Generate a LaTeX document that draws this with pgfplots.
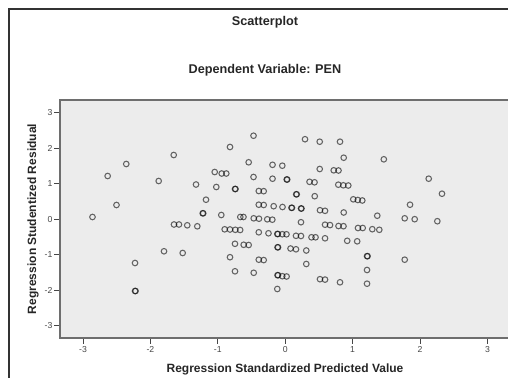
\documentclass[border=0pt]{standalone}
\usepackage{fontspec}
\setmainfont{Liberation Sans}
\usepackage{pgfplots}
\pgfplotsset{compat=1.18}
\definecolor{bgc}{RGB}{236,236,236}
\definecolor{axc}{RGB}{110,110,110}
\definecolor{tkc}{RGB}{70,70,70}
\begin{document}
\begin{tikzpicture}
\useasboundingbox (0pt,0pt) rectangle (381pt,-283.5pt);
\clip (0pt,0pt) rectangle (381pt,-283.5pt);
\draw[line width=0.8pt, draw=black!80] (6.75pt,-6.75pt) rectangle (391pt,-300pt);
\node[font=\fontsize{9.5}{11}\selectfont\bfseries, text=black!85] at (198.75pt,-16.5pt) {Scatterplot};
\node[font=\fontsize{9.5}{11}\selectfont\bfseries, text=black!85] at (198.75pt,-52.5pt) {Dependent Variable: PEN};
\begin{axis}[
  at={(45pt,-253.5pt)}, anchor=south west,
  scale only axis, width=337.5pt, height=178.5pt,
  xmin=-3.341, xmax=3.335, ymin=-3.344, ymax=3.361,
  axis background/.style={fill=bgc},
  axis line style={draw=axc, line width=1.1pt},
  tick align=outside, xtick pos=bottom, ytick pos=left,
  major tick length=4.5pt,
  tick style={draw=tkc, line width=0.6pt},
  xtick={-3,-2,-1,0,1,2,3}, xticklabels={-3,-2,-1,0,1,2,3},
  ytick={-3,-2,-1,0,1,2,3}, yticklabels={-3,-2,-1,0,1,2,3},
  ticklabel style={font=\fontsize{6.5}{7}\selectfont, text=tkc},
  yticklabel style={inner sep=1pt},
  xticklabel style={inner sep=1.5pt},
  xlabel={Regression Standardized Predicted Value},
  xlabel style={at={(axis description cs:0.5,-0.1303)}, anchor=center, font=\fontsize{9}{10}\selectfont\bfseries, text=black!85},
  ylabel={Regression Studentized Residual},
  ylabel style={at={(axis description cs:-0.06,0.5)}, anchor=center, font=\fontsize{9}{10}\selectfont\bfseries, text=black!85},
]
\addplot[only marks, mark=o, mark size=2.1pt, mark options={draw=black, draw opacity=0.58, line width=0.8pt}] table {
x y
-2.859 0.065
-2.634 1.220
-2.503 0.403
-2.358 1.558
-2.228 -1.231
-2.228 -2.020
-2.220 -2.020
-1.877 1.079
-1.798 -0.901
-1.654 1.811
-1.650 -0.146
-1.576 -0.146
-1.453 -0.169
-1.304 -0.197
-1.521 -0.949
-1.323 0.980
-1.224 0.169
-1.216 0.169
-1.175 0.552
-1.046 1.332
-0.942 1.290
-0.874 1.290
-1.022 0.910
-0.948 0.121
-0.898 -0.282
-0.819 -0.287
-0.740 -0.296
-0.668 -0.301
-0.819 2.037
-0.819 -1.068
-0.745 0.854
-0.737 0.854
-0.745 -0.690
-0.616 -0.718
-0.542 -0.724
-0.745 -1.465
-0.666 0.065
-0.619 0.065
-0.542 1.606
-0.470 2.355
-0.470 1.192
-0.467 0.028
-0.389 0.017
-0.467 -1.507
-0.392 0.797
-0.319 0.792
-0.392 0.411
-0.319 0.403
-0.392 -0.366
-0.392 -1.138
-0.319 -1.149
-0.266 0.000
-0.191 -0.011
-0.248 -0.394
-0.188 1.535
-0.043 1.510
-0.188 1.144
0.022 1.121
0.030 1.121
-0.171 0.369
-0.040 0.346
0.093 0.324
0.101 0.324
0.234 0.304
0.242 0.304
-0.117 -0.414
-0.109 -0.414
-0.043 -0.420
0.019 -0.423
-0.114 -0.789
-0.106 -0.789
0.079 -0.823
0.160 -0.845
0.313 -0.879
-0.114 -1.575
-0.106 -1.575
-0.043 -1.603
0.021 -1.611
-0.117 -1.963
0.294 2.256
0.512 2.186
0.813 2.186
0.868 1.735
1.463 1.690
0.512 1.417
0.720 1.380
0.791 1.375
0.361 1.056
0.435 1.042
0.788 0.975
0.862 0.958
0.936 0.952
0.163 0.704
0.171 0.704
0.438 0.651
1.010 0.563
1.077 0.544
1.144 0.530
0.516 0.256
0.591 0.239
0.868 0.192
1.366 0.101
0.234 -0.082
0.591 -0.152
0.665 -0.163
0.791 -0.189
0.865 -0.194
1.080 -0.245
1.150 -0.245
1.292 -0.279
1.396 -0.296
0.160 -0.465
0.234 -0.470
0.390 -0.507
0.450 -0.507
0.591 -0.535
0.920 -0.606
1.068 -0.620
1.214 -1.039
1.222 -1.039
0.313 -1.259
1.214 -1.428
0.516 -1.687
0.591 -1.699
0.813 -1.775
1.214 -1.814
1.773 -1.138
1.852 0.411
1.773 0.028
1.921 0.003
2.257 -0.054
2.129 1.144
2.326 0.721
};
\end{axis}
\end{tikzpicture}
\end{document}
